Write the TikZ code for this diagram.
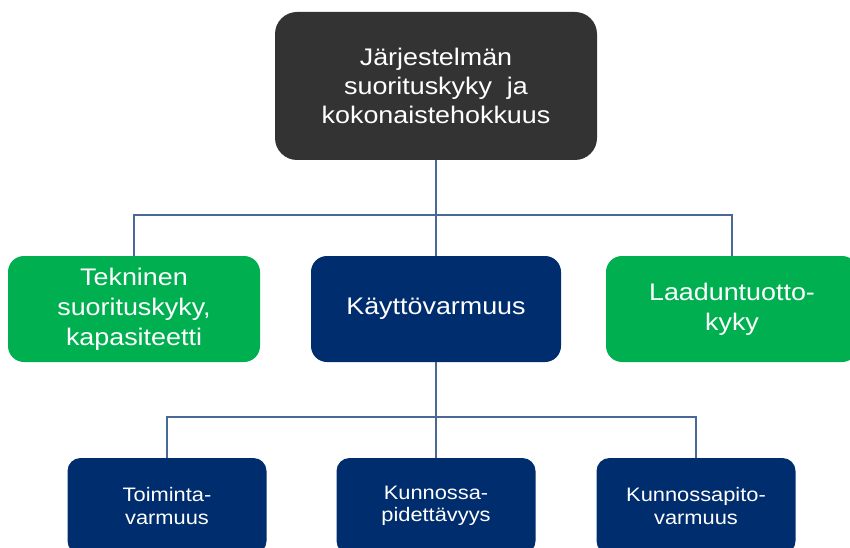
\documentclass[tikz,border=0pt]{standalone}
\usepackage{fontspec}
\setmainfont[FakeStretch=1.12]{Liberation Sans}
\usepackage{tikz}
\usetikzlibrary{positioning}

\definecolor{boxgray}{HTML}{333333}
\definecolor{boxgreen}{HTML}{00B050}
\definecolor{boxblue}{HTML}{002D6E}
\definecolor{linkblue}{HTML}{4A6897}

\begin{document}
\begin{tikzpicture}[x=1pt, y=1pt, semithick]
\tikzstyle{box}=[rectangle, rounded corners=16pt, inner sep=0pt, align=center, text=white]
\tikzstyle{headbox}=[box, fill=boxgray, minimum width=322pt, minimum height=148pt, rounded corners=22pt, font=\fontsize{24}{29}\selectfont]
\tikzstyle{greenbox}=[box, fill=boxgreen, minimum width=252pt, minimum height=106pt, font=\fontsize{24}{30}\selectfont]
\tikzstyle{bluebox}=[box, fill=boxblue, minimum width=250pt, minimum height=106pt, font=\fontsize{24}{30}\selectfont]
\tikzstyle{smallbox}=[box, fill=boxblue, minimum width=199pt, minimum height=96pt, rounded corners=13pt, font=\fontsize{19.5}{22.5}\selectfont]
\tikzstyle{link}=[draw=linkblue, line width=1.6pt]

\useasboundingbox (0,0) rectangle (850,547);

\node[headbox]    (top) at (436,461) {Järjestelmän\\suorituskyky\ \ ja\\kokonaistehokkuus};
\node[bluebox]    (kay) at (436,238) {Käyttövarmuus};
\node[greenbox]   (tek) at (134,238) {Tekninen\\suorituskyky,\\kapasiteetti};
\node[greenbox]   (laa) at (732,238) {Laaduntuotto-\\kyky};
\node[smallbox]   (toi) at (167,41)  {Toiminta-\\varmuus};
\node[smallbox]   (kun) at (436,41)  {Kunnossa-\\pidettävyys};
\node[smallbox]   (kpv) at (696,41)  {Kunnossapito-\\varmuus};

\coordinate (bar1) at (436,332);
\coordinate (bar2) at (436,130);

\path[link]
(top.south) edge (kay.north)
(kay.south) edge (kun.north);
\draw[link] (tek.north) |- (bar1) -| (laa.north);
\draw[link] (toi.north) |- (bar2) -| (kpv.north);

\end{tikzpicture}
\end{document}
